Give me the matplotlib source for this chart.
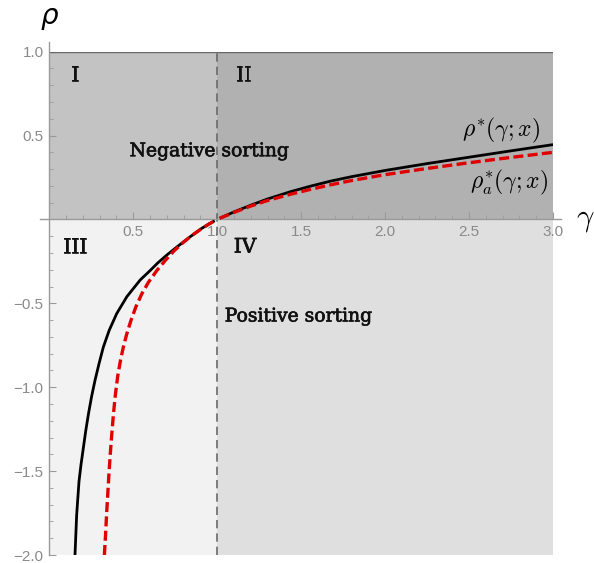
import numpy as np
import matplotlib.pyplot as plt
import matplotlib.patheffects as pe

# readings of the two sorting thresholds, negative branch (gamma < 1)
gamma_star_neg = [0.153, 0.158, 0.163, 0.170, 0.177, 0.189, 0.203, 0.217, 0.233, 0.251,
                  0.272, 0.296, 0.322, 0.357, 0.402, 0.462, 0.542, 0.60, 0.645, 0.70,
                  0.765, 0.83, 0.90, 0.95, 0.985]
rho_star_neg = [-2.0, -1.88, -1.76, -1.66, -1.56, -1.46, -1.36, -1.26, -1.16, -1.06,
                -0.96, -0.86, -0.76, -0.66, -0.56, -0.46, -0.36, -0.305, -0.26, -0.212,
                -0.16, -0.11, -0.058, -0.027, -0.008]
# positive branch (gamma > 1)
gamma_star_pos = [1.015, 1.1, 1.2, 1.3, 1.435, 1.55, 1.673, 1.8, 2.0, 2.25, 2.5, 2.75, 3.0]
rho_star_pos = [0.007, 0.045, 0.085, 0.122, 0.165, 0.197, 0.228, 0.255, 0.292, 0.333,
                0.371, 0.409, 0.446]

gamma_a_neg = [0.328, 0.335, 0.341, 0.348, 0.355, 0.363, 0.372, 0.382, 0.394, 0.408,
               0.424, 0.441, 0.462, 0.487, 0.516, 0.55, 0.59, 0.64, 0.69, 0.74,
               0.80, 0.85, 0.90, 0.95, 0.985]
rho_a_neg = [-2.0, -1.88, -1.76, -1.64, -1.52, -1.40, -1.28, -1.16, -1.04, -0.93,
             -0.84, -0.76, -0.68, -0.60, -0.52, -0.445, -0.375, -0.305, -0.245, -0.19,
             -0.135, -0.095, -0.06, -0.028, -0.008]
gamma_a_pos = [1.015, 1.1, 1.2, 1.3, 1.435, 1.55, 1.673, 1.8, 2.0, 2.25, 2.5, 2.75, 3.0]
rho_a_pos = [0.007, 0.042, 0.08, 0.113, 0.15, 0.178, 0.206, 0.232, 0.267, 0.304,
             0.338, 0.37, 0.40]

# quadrant grid: gamma splits, rho splits, fill colours (bottom row first)
gamma_edges = [0, 1, 3]
rho_edges = [-2, 0, 1]
quad_colors = [['#f2f2f2', '#dfdfdf'],
               ['#c3c3c3', '#b1b1b1']]
quad_names = ['I', 'II', 'III', 'IV']
quad_pos = [(0.153, 0.86), (1.157, 0.86), (0.153, -0.165), (1.166, -0.165)]

plt.rcParams['mathtext.fontset'] = 'cm'

fig = plt.figure(figsize=(5.94, 5.63), dpi=100)
ax = fig.add_axes([0.083, 0.0142, 0.848, 0.894])

for j in range(2):
    for i in range(2):
        x0, x1 = gamma_edges[i], gamma_edges[i + 1]
        y0, y1 = rho_edges[j], rho_edges[j + 1]
        ax.fill([x0, x1, x1, x0], [y0, y0, y1, y1], color=quad_colors[j][i],
                lw=0, zorder=0)

ax.plot([1, 1], [-2, 1], color='#6a6a6a', lw=1.2, ls=(0, (5, 3)), zorder=2)
ax.plot([0, 3], [1, 1], color='#666666', lw=1.0, zorder=2)

for g, r in [(gamma_star_neg, rho_star_neg), (gamma_star_pos, rho_star_pos)]:
    ax.plot(g, r, color='black', lw=2.0, zorder=3, solid_capstyle='butt',
            solid_joinstyle='round')
for g, r in [(gamma_a_neg, rho_a_neg), (gamma_a_pos, rho_a_pos)]:
    ax.plot(g, r, color='#e00000', lw=2.4, ls=(0, (3.0, 1.3)), zorder=4)

# slightly heavier serif for the region labels
heavy = [pe.withStroke(linewidth=0.5, foreground='#111111')]
for name, (x, y) in zip(quad_names, quad_pos):
    ax.text(x, y, name, ha='center', va='center', fontsize=14.5,
            family='DejaVu Serif', color='#111111', path_effects=heavy)

ax.text(0.95, 0.377, 'Negative sorting', ha='center', va='baseline', fontsize=13.5,
        family='DejaVu Serif', color='#111111', path_effects=heavy)
ax.text(1.482, -0.608, 'Positive sorting', ha='center', va='baseline', fontsize=13.5,
        family='DejaVu Serif', color='#111111', path_effects=heavy)

ax.text(2.692, 0.532, r'$\rho^{*}(\gamma;x)$', ha='center', va='center', fontsize=17)
ax.text(2.74, 0.223, r'$\rho^{*}_{a}(\gamma;x)$', ha='center', va='center', fontsize=17)

ax.text(0.0, 1.2, r'$\rho$', ha='center', va='center', fontsize=20,
        math_fontfamily='dejavusans', clip_on=False)
ax.text(3.19, 0.0, r'$\gamma$', ha='center', va='center', fontsize=22, clip_on=False)

# axes through the origin, Mathematica style
ax.set_xlim(0, 3)
ax.set_ylim(-2, 1)
for s in ['top', 'right', 'left']:
    ax.spines[s].set_visible(False)
ax.spines['bottom'].set_position(('data', 0))
ax.spines['bottom'].set_visible(False)
ax.plot([-0.055, 3.05], [0, 0], color='#9a9a9a', lw=1.0, clip_on=False, zorder=2)
ax.plot([0, 0], [-2, 1.055], color='#9a9a9a', lw=1.0, clip_on=False, zorder=2)

ax.set_xticks([0.5, 1.0, 1.5, 2.0, 2.5, 3.0])
ax.set_xticklabels(['0.5', '1.0', '1.5', '2.0', '2.5', '3.0'])
ax.set_xticks(np.arange(0.1, 3.0, 0.1), minor=True)
ax.set_yticks([-2.0, -1.5, -1.0, -0.5, 0.5, 1.0])
ax.set_yticklabels(['\u22122.0', '\u22121.5', '\u22121.0', '\u22120.5', '0.5', '1.0'])
ax.set_yticks(np.arange(-1.9, 1.0, 0.1), minor=True)
ax.tick_params(which='both', direction='in', color='#9a9a9a', labelcolor='#8a8a8a',
               labelsize=11, pad=4)
ax.tick_params(which='major', length=5, width=0.8)
ax.tick_params(which='minor', length=3, width=0.6)
for lab in ax.get_xticklabels() + ax.get_yticklabels():
    lab.set_family('Liberation Sans')

fig.savefig('out.png', dpi=100)
